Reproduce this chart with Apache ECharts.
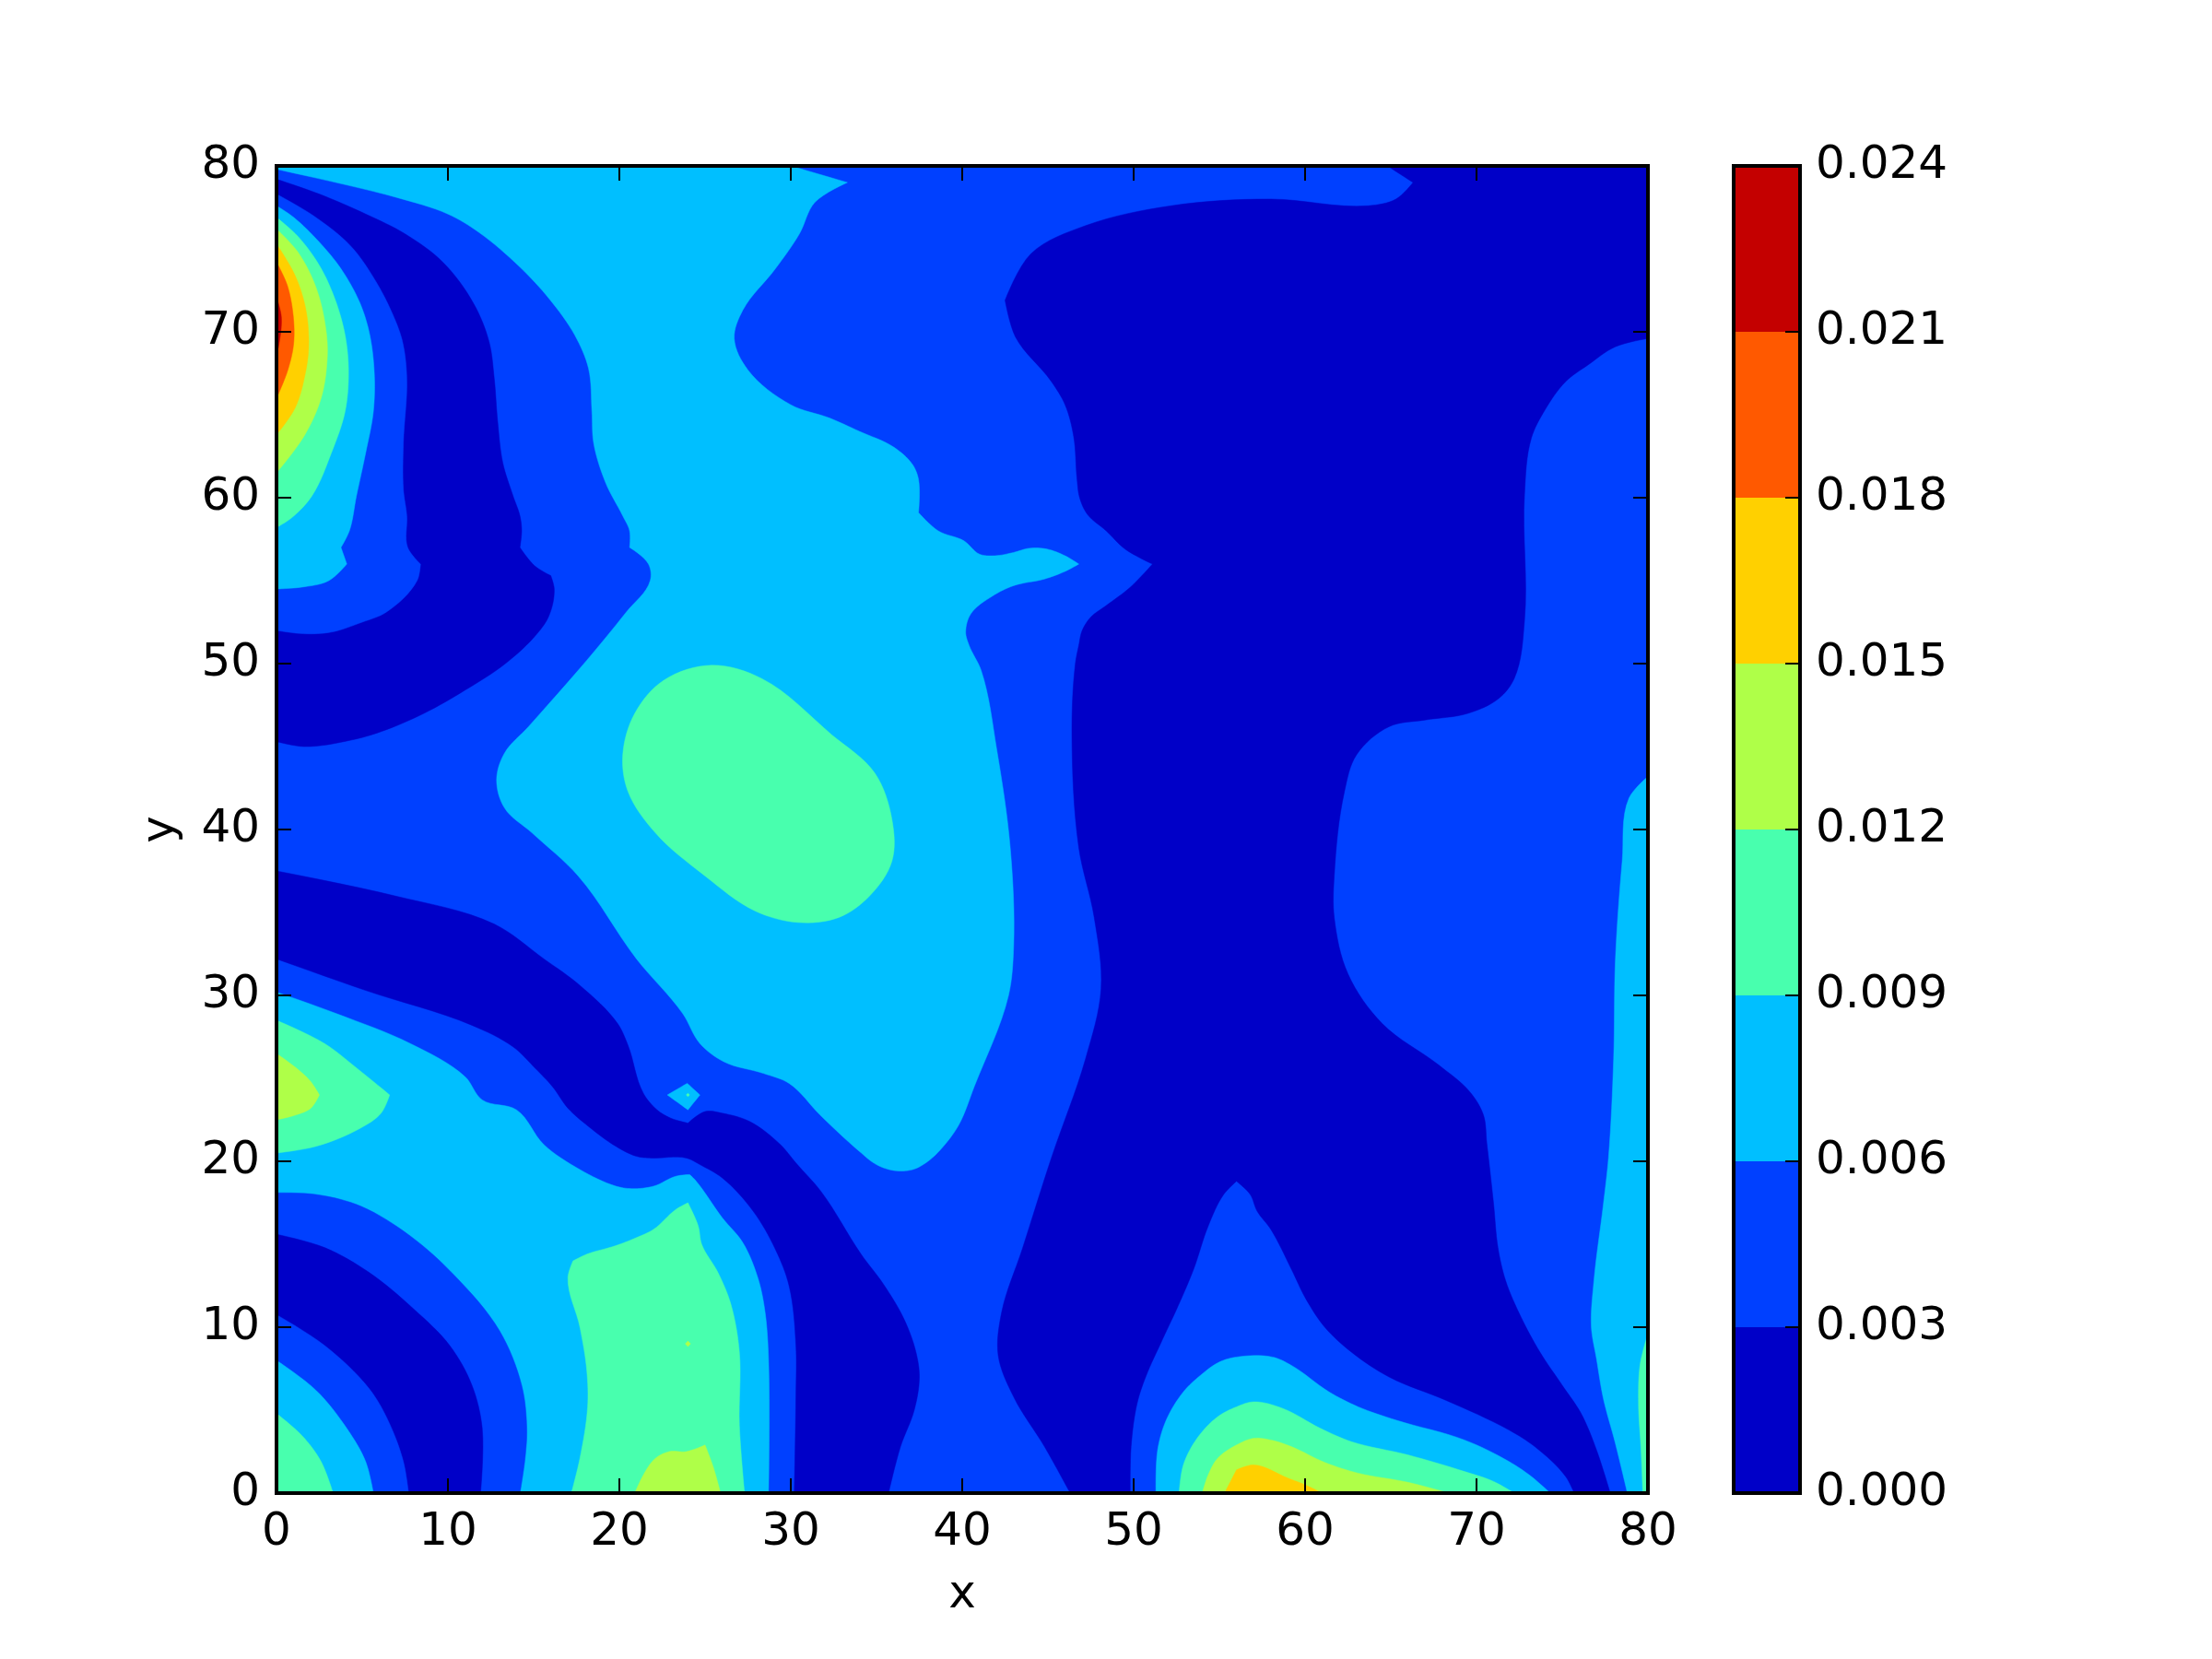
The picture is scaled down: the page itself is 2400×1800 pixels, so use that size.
<!DOCTYPE html>
<html><head><meta charset="utf-8">
<style>html,body{margin:0;padding:0;background:#fff}#c{width:2400px;height:1800px}</style>
<script src="https://cdn.jsdelivr.net/npm/echarts@6/dist/echarts.min.js"></script>
</head><body><div id="c"></div>
<script>
const axisTicks = [0,10,20,30,40,50,60,70,80];
const levels = [0,0.003,0.006,0.009,0.012,0.015,0.018,0.021,0.024];
const levelColors = ['#0000c8','#0040ff','#00bfff','#48ffae','#afff48','#ffd000','#ff5900','#c40000'];

// contour outlines in data units [x, y]
const plotArea = [[0,0],[80,0],[80,80],[0,80]];
const darkTopLeft = [[0,79.2],[2.5,78.3],[5.2,77.1],[7.5,75.9],[9.7,74.2],[11.5,71.7],[12.4,69.4],[12.7,67.2],[12.9,64.6],[13.2,62.1],[13.8,60.1],[14.2,58.9],[14.3,58],[14.2,57],[15.05,55.9],[16,55.3],[16.2,54.5],[15.9,52.9],[15.2,51.8],[13.35,50],[11,48.4],[8.6,47],[6.1,45.9],[4.4,45.4],[1.6,45],[0,45.3]];
const darkMiddleBand = [[0,37.5],[6.9,36],[12.7,34.3],[15.6,32.2],[17.7,30.6],[19.9,28.3],[20.5,27],[21.4,24.1],[22.2,23.1],[23,22.6],[24,22.3],[25,23],[26,22.9],[27.6,22.4],[29.4,21],[30.3,19.9],[31.75,18.2],[34.1,14.4],[35.4,12.6],[36.6,10.5],[37.3,8.5],[37.5,7],[37.2,5],[36.4,2.8],[35.7,0],[30.2,0],[30.3,5.9],[30.3,8.9],[29.9,12.5],[29.1,14.7],[27.8,17],[26,19],[24.7,19.8],[23.9,20.2],[21.85,20.2],[21,20.3],[19.8,20.9],[18.2,22.1],[17,23.2],[16.1,24.5],[15.1,25.6],[13.8,26.9],[11.4,28.2],[5.2,30.3],[0,32.2]];
const darkRight = [[64.8,80],[66.3,79],[65.3,78],[63.7,77.6],[58,78],[52.2,77.6],[47.2,76.4],[44,74.7],[42.5,71.9],[43.1,69.7],[45.2,67],[46,65.6],[46.5,63.7],[46.7,61.1],[46.85,60],[47.3,59],[48.4,58],[49.5,56.9],[51.1,56],[49.8,54.6],[48.4,53.5],[47.5,52.8],[47,52],[46.8,51.1],[46.6,50],[46.4,45.7],[46.8,38.9],[47.7,34.7],[48.1,30.4],[47.2,26.2],[45.2,20.2],[43.5,14.7],[42.3,10.9],[42.1,8.3],[43,5.8],[44.8,2.8],[46.3,0],[49.8,0],[49.85,2.8],[50.2,5.4],[50.7,7],[51.7,9.3],[52.6,11.3],[53.5,13.5],[54.35,16.1],[55.25,18],[56,18.8],[56.8,18],[57.2,17],[58,15.9],[59.2,13.5],[60.05,11.7],[61.15,10],[62.7,8.5],[64.9,7],[68.2,5.6],[71.9,3.8],[73.4,2.8],[75.2,1],[75.7,0],[77.8,0],[77,2.6],[76.1,4.8],[75,6.5],[73.7,8.5],[72.6,10.6],[71.7,12.8],[71.25,14.8],[71,17.4],[70.6,21.1],[70.4,22.8],[69.6,24.2],[67.8,25.8],[64.5,28.3],[62.5,31.3],[61.7,34.7],[61.7,37.2],[62.3,42.3],[63,44.5],[64.9,46.2],[67,46.6],[69.5,47],[71.3,47.9],[72.2,49.1],[72.8,52.6],[72.8,60.2],[73.2,63.6],[74,65.3],[75.2,67],[76.5,68],[78.1,69.1],[80,69.6],[80,80]];
const lightCentre = [[0,79.8],[4.3,78.8],[7,78.1],[10,77.1],[11.8,76],[14.2,73.9],[15.9,72],[17.4,69.8],[18.2,67.8],[18.4,65.2],[18.5,63.3],[19.2,60.9],[20.2,58.9],[20.6,58],[20.6,57],[21.7,56],[21.8,55],[20.4,53.1],[18.1,50.2],[14.7,46.2],[13.3,44.6],[12.84,43],[13.3,41.3],[14.9,39.8],[17.6,37.2],[21,32.2],[23.7,28.9],[24.7,27.1],[26.1,26],[28.4,25.3],[29.9,24.7],[31.7,22.8],[34,20.6],[35,19.8],[36,19.45],[37.1,19.5],[38,20],[38.9,20.9],[39.8,22.2],[40.7,24.5],[42.7,30],[43,33],[42.8,38.9],[42,44.9],[41.1,49.6],[40.4,51.1],[40.2,51.9],[40.5,53],[41.76,54.07],[43,54.7],[44.8,55.1],[46,55.56],[46.8,56],[46,56.5],[44.95,56.9],[43.9,56.95],[43,56.7],[41.9,56.5],[41,56.6],[40.1,57.4],[38.6,58],[37.45,59.1],[37.45,61.1],[37.1,62],[36,63.05],[34,64],[32.26,64.8],[30,65.6],[27.5,67.7],[26.7,69.6],[27.2,71.3],[29.1,73.8],[30.5,75.9],[31.4,77.8],[33.3,79],[30,80],[0,80]];
const greenCentre = [[20.2,44.5],[20.9,47],[22.6,49],[25.4,49.9],[28.3,49.1],[32.4,45.7],[34.9,43.4],[35.9,40.6],[35.9,38.1],[34.6,36],[32.8,34.7],[30.4,34.4],[27.9,35.1],[25,37.2],[22.1,39.8],[20.5,42.3]];
const lightLowerLeft = [[0,30.2],[3.5,28.9],[7.8,27.1],[11,25.1],[12,23.7],[14,23.1],[15.6,21],[17.7,19.5],[19.8,18.5],[20.7,18.35],[22,18.5],[23.3,19.1],[24.1,19.2],[24.4,18.9],[26,16.6],[27.2,15.1],[28.1,12.9],[28.5,10.9],[28.7,8.1],[28.7,0],[0,0]];
const lightRight = [[80,43.2],[78.9,41.9],[78.5,38.1],[78.1,32.1],[78,26.2],[77.7,20.2],[77.4,17.4],[76.85,12.8],[76.7,10],[77,8.1],[77.4,5.7],[78.1,3],[78.8,0],[80,0]];
const greenRight = [[79.7,0],[79.6,2.6],[79.45,5.4],[79.55,7.8],[80,9.6],[80,0]];
// top-left peak, outermost to innermost
const peakBlue = [[0,78.3],[2.15,77],[4.3,75.2],[5.7,73.2],[6.8,71],[7.35,69.4],[7.6,67.2],[7.4,63.3],[7.4,60.5],[7.6,58.9],[7.65,57],[8.4,56],[8.2,55],[6.4,53.1],[5,52.5],[3.2,51.9],[1.6,51.8],[0,52]];
const peakLight = [[0,77.6],[1,76.9],[2.5,75.4],[3.76,73.8],[4.84,71.8],[5.4,70],[5.7,67.6],[5.65,65.2],[5.2,62.7],[4.66,60.1],[4.25,58],[3.76,57],[4.1,56],[3.05,55],[1.4,54.6],[0,54.5]];
const peakGreen = [[0,76.9],[1.25,75.75],[2.5,74],[3.4,72],[4,69.8],[4.2,67.6],[4,65.2],[3.2,62.7],[2.06,60.1],[0.9,58.8],[0,58.2]];
const peakLime = [[0,76.2],[1.25,74.8],[2.33,72.6],[2.9,70],[2.96,68.4],[2.6,66],[1.6,63.7],[0,61.5]];
const peakYellow = [[0,75.3],[1.08,73.4],[1.7,71.4],[1.88,69.2],[1.7,67.6],[1.08,65.4],[0,63.8]];
const peakOrange = [[0,74.2],[0.63,72.8],[0.99,70.8],[0.99,69.2],[0.63,67.6],[0,66]];
const peakRed = [[0,72.1],[0.27,71],[0.27,70.2],[0.1,69],[0,69]];
// left wedge at y about 24
const wedgeGreen = [[0,28.5],[2.8,27.1],[4.7,25.6],[6.6,24],[6.1,22.9],[4.9,22],[2.3,20.9],[0,20.5]];
const wedgeLime = [[0,26.5],[1.3,25.5],[2,24.8],[2.5,24],[2,23.2],[1.15,22.8],[0,22.5]];
// bottom-left corner arcs
const cornerBlueOuter = [[0,18.1],[2.3,18],[4.9,17.3],[7.8,15.5],[10.4,13.1],[13,9.8],[14.3,6.5],[14.6,3.9],[14.5,2.1],[14.2,0],[0,0]];
const cornerDark = [[0,15.6],[2.8,14.8],[5.4,13.3],[8,11.1],[10.1,8.9],[11.4,6.5],[12,3.9],[11.9,0],[0,0]];
const cornerBlueInner = [[0,10.75],[2.8,8.9],[5.4,6.3],[6.45,4.5],[7.4,1.9],[7.7,0],[0,0]];
const cornerLight = [[0,8],[2.3,6.2],[4.1,3.9],[5.2,1.9],[5.65,0],[0,0]];
const cornerGreen = [[0,4.8],[1.5,3.45],[2.6,1.9],[3.3,0],[0,0]];
// island near x = 22
const islandGreen = [[17.3,14],[17,13],[17.7,10],[18.1,7.4],[18.15,5.2],[17.7,2.1],[17.2,0],[27.3,0],[27,4.1],[27,8.5],[26.5,11.4],[25.75,13.3],[24.8,15],[24.6,16.1],[24,17.5],[23.3,17.1],[22,15.9],[21,15.4],[19.75,14.9],[18.1,14.4]];
const islandLime = [[20.9,0],[22,2],[22.9,2.5],[23.9,2.5],[25,2.9],[25.5,1.5],[25.9,0]];
const islandDot = [[23.85,9],[24,9.17],[24.15,9],[24,8.83]];
const diamondLight = [[22.8,24],[23.96,24.7],[24.7,24],[24,23.1]];
const diamondDot = [[23.9,24],[24,24.1],[24.1,24],[24,23.9]];
// lobe at the bottom near x = 57
const lobeLight = [[51.3,0],[51.4,2.6],[51.9,4.4],[52.9,6.1],[53.9,7.1],[55,7.9],[56,8.2],[58.1,8.2],[59.2,7.7],[61.4,6.1],[63.1,5.2],[65.3,4.4],[69.3,3.2],[71.9,1.9],[73.2,1],[74.3,0]];
const lobeGreen = [[52.65,0],[52.9,1.7],[53.7,3.3],[54.9,4.6],[56,5.2],[57,5.5],[58.7,5.1],[60.9,3.9],[62.7,3.1],[66,2.3],[69.3,1.3],[71,0.7],[72.2,0]];
const lobeLime = [[54,0],[54.35,1.1],[54.9,2.1],[56,2.9],[57,3.3],[58,3.2],[59.2,2.8],[61.15,1.85],[63.1,1.2],[66,0.65],[68.4,0]];
const lobeYellow = [[55.3,0],[56,1.4],[57,1.7],[59,0.9],[60,0.5],[61,0]];

// paint order: [outline, level index]
const layers = [
 [plotArea,1],[darkTopLeft,0],[darkMiddleBand,0],[darkRight,0],
 [lightCentre,2],[greenCentre,3],[lightLowerLeft,2],[lightRight,2],[greenRight,3],
 [peakBlue,1],[peakLight,2],[peakGreen,3],[peakLime,4],[peakYellow,5],[peakOrange,6],[peakRed,7],
 [wedgeGreen,3],[wedgeLime,4],
 [cornerBlueOuter,1],[cornerDark,0],[cornerBlueInner,1],[cornerLight,2],[cornerGreen,3],
 [islandGreen,3],[islandLime,4],[islandDot,4],[diamondLight,2],[diamondDot,3],
 [lobeLight,2],[lobeGreen,3],[lobeLime,4],[lobeYellow,5]
];

// Rounds an outline on screen: gentle vertices become curves, sharp ones and those on the frame stay corners.
function rounded(data, px){
  const n = px.length, out = [], tan = [];
  const onEdge = p => p[0]<=0 || p[0]>=80 || p[1]<=0 || p[1]>=80;
  for(let i=0;i<n;i++){
    const a=px[(i+n-1)%n], b=px[i], c=px[(i+1)%n];
    const ux=b[0]-a[0],uy=b[1]-a[1],vx=c[0]-b[0],vy=c[1]-b[1];
    const lu=Math.hypot(ux,uy)||1, lv=Math.hypot(vx,vy)||1;
    const cos=(ux*vx+uy*vy)/(lu*lv);
    if(onEdge(data[i]) || cos<0.72){ tan.push(null); continue; }
    const tx=ux/lu+vx/lv, ty=uy/lu+vy/lv, l=Math.hypot(tx,ty)||1;
    tan.push([tx/l,ty/l]);
  }
  for(let i=0;i<n;i++){
    const j=(i+1)%n, p=px[i], q=px[j], d=Math.hypot(q[0]-p[0],q[1]-p[1])/3;
    const c1=tan[i]?[p[0]+tan[i][0]*d,p[1]+tan[i][1]*d]:p;
    const c2=tan[j]?[q[0]-tan[j][0]*d,q[1]-tan[j][1]*d]:q;
    for(let k=0;k<8;k++){
      const t=k/8,s=1-t;
      out.push([
        s*s*s*p[0]+3*s*s*t*c1[0]+3*s*t*t*c2[0]+t*t*t*q[0],
        s*s*s*p[1]+3*s*s*t*c1[1]+3*s*t*t*c2[1]+t*t*t*q[1]
      ]);
    }
  }
  return out;
}

const font = 'DejaVu Sans';
const frame = {show:true,onZero:false,lineStyle:{color:'#000',width:4,cap:'square'}};
const tick = {show:true,inside:true,length:16,lineStyle:{color:'#000',width:2}};
function xAx(grid,pos,extra){return Object.assign({type:'value',gridIndex:grid,position:pos,min:0,max:80,interval:10,z:10,axisLine:frame,axisTick:tick,axisLabel:{show:false},splitLine:{show:false}},extra||{});}
function yAx(grid,pos,extra){return Object.assign({type:'value',gridIndex:grid,position:pos,min:0,max:80,interval:10,z:10,axisLine:frame,axisTick:tick,axisLabel:{show:false},splitLine:{show:false}},extra||{});}
const lab = {show:true,color:'#000',fontFamily:font,fontSize:50,margin:18};

const series = layers.map(([pts,lvl])=>({
  type:'custom',xAxisIndex:0,yAxisIndex:0,z:1,silent:true,animation:false,clip:true,
  data:pts,
  renderItem(params,api){
    if(params.dataIndex!==0) return null;
    return {type:'polygon',shape:{points:rounded(pts,pts.map(p=>api.coord(p)))},style:{fill:levelColors[lvl],stroke:levelColors[lvl],lineWidth:0.5}};
  }
}));
series.push({
  type:'custom',xAxisIndex:2,yAxisIndex:2,z:1,silent:true,animation:false,
  data:levelColors.map((c,i)=>[levels[i],levels[i+1]]),
  renderItem(params,api){
    const a=api.coord([0,api.value(0)]),b=api.coord([1,api.value(1)]);
    return {type:'rect',shape:{x:a[0],y:b[1],width:b[0]-a[0],height:a[1]-b[1]},style:{fill:levelColors[params.dataIndex]}};
  }
});

const chart = echarts.init(document.getElementById('c'),null,{renderer:'canvas',width:2400,height:1800});
chart.setOption({
  backgroundColor:'#fff',animation:false,
  grid:[{left:300,top:180,width:1488,height:1440},{left:1881,top:180,width:72,height:1440}],
  xAxis:[
    xAx(0,'bottom',{name:'x',nameLocation:'middle',nameGap:86,nameTextStyle:{color:'#000',fontFamily:font,fontSize:50},axisLabel:lab}),
    xAx(0,'top'),
    xAx(1,'bottom',{min:0,max:1,interval:1,axisTick:{show:false}}),
    xAx(1,'top',{min:0,max:1,interval:1,axisTick:{show:false}})
  ],
  yAxis:[
    yAx(0,'left',{name:'y',nameLocation:'middle',nameGap:100,nameTextStyle:{color:'#000',fontFamily:font,fontSize:50},axisLabel:lab}),
    yAx(0,'right'),
    yAx(1,'right',{min:levels[0],max:levels[levels.length-1],interval:0.003,axisLabel:Object.assign({},lab,{margin:17,formatter:v=>v.toFixed(3)})}),
    yAx(1,'left',{min:levels[0],max:levels[levels.length-1],interval:0.003,axisTick:{show:false}})
  ],
  series
});
</script></body></html>
